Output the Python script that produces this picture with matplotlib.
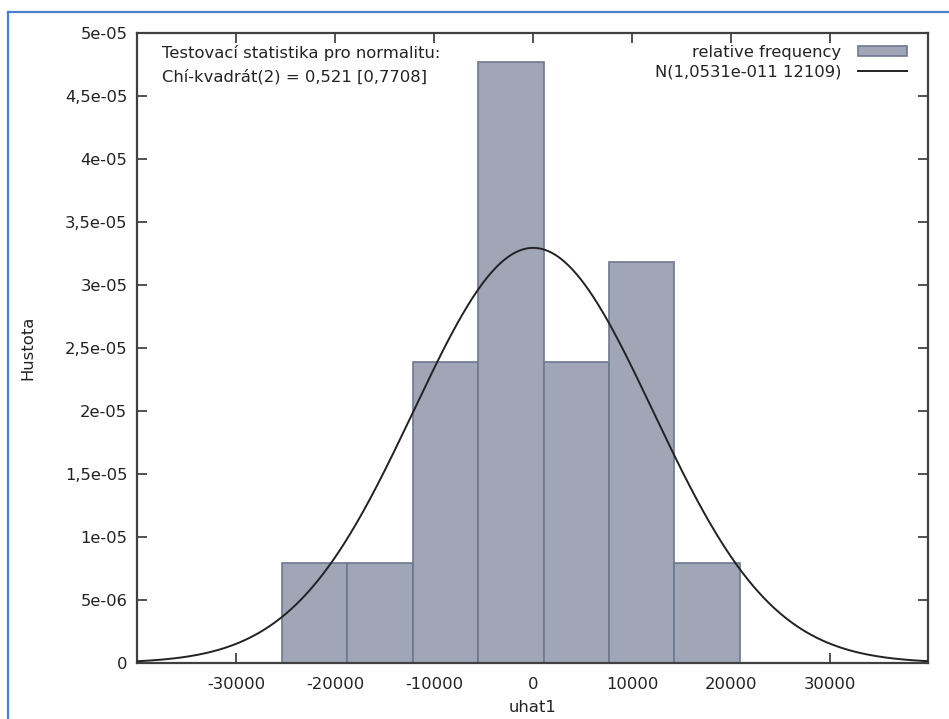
import numpy as np
import matplotlib
matplotlib.use("Agg")
import matplotlib.pyplot as plt
from matplotlib.lines import Line2D
from matplotlib.ticker import FixedLocator, FixedFormatter

# ---- data ----
bin_edges = [-25410, -18796, -12182, -5568, 1046, 7660, 14274, 20888]
densities = [7.96e-6, 7.96e-6, 2.39e-5, 4.77e-5, 2.39e-5, 3.18e-5, 7.96e-6]
norm_mean = 1.0531e-11
norm_sd = 12109.0
x_range = [-40050, 39900]
x_ticks = [-30000, -20000, -10000, 0, 10000, 20000, 30000]
x_ticklabels = ["-30000", "-20000", "-10000", "0", "10000", "20000", "30000"]
y_ticks = [0, 5e-6, 1e-5, 1.5e-5, 2e-5, 2.5e-5, 3e-5, 3.5e-5, 4e-5, 4.5e-5, 5e-5]
y_ticklabels = ["0", "5e-06", "1e-05", "1,5e-05", "2e-05", "2,5e-05", "3e-05",
                "3,5e-05", "4e-05", "4,5e-05", "5e-05"]
legend_labels = ["relative frequency", "N(1,0531e-011 12109)"]
note_lines = ["Testovací statistika pro normalitu:", "Chí-kvadrát(2) = 0,521 [0,7708]"]

FS = 11.8
plt.rcParams['font.family'] = ['DejaVu Sans']
W, H = 949, 719
fig = plt.figure(figsize=(W / 100, H / 100), dpi=100)
fig.patch.set_facecolor('white')

# outer blue frame (left and top edges visible)
fig.add_artist(Line2D([8 / W, 8 / W], [-0.01, 1 - 12 / H], transform=fig.transFigure,
                      color='#4a7fd0', lw=1.6))
fig.add_artist(Line2D([8 / W, 1.01], [1 - 12 / H, 1 - 12 / H], transform=fig.transFigure,
                      color='#4a7fd0', lw=1.6))

ax = fig.add_axes([137 / W, 56 / H, 791 / W, 630 / H])

lefts = bin_edges[:-1]
widths = np.diff(bin_edges)
bars = ax.bar(lefts, densities, width=widths, align='edge', color='#a0a6b6',
              edgecolor='#6d7891', linewidth=1.2, label=legend_labels[0], zorder=2)

xs = np.linspace(x_range[0], x_range[1], 600)
ys = np.exp(-0.5 * ((xs - norm_mean) / norm_sd) ** 2) / (norm_sd * np.sqrt(2 * np.pi))
line, = ax.plot(xs, ys, color='#222222', lw=1.4, label=legend_labels[1], zorder=3)

ax.set_xlim(x_range)
ax.set_ylim(0, 5e-5)
ax.xaxis.set_major_locator(FixedLocator(x_ticks))
ax.xaxis.set_major_formatter(FixedFormatter(x_ticklabels))
ax.yaxis.set_major_locator(FixedLocator(y_ticks))
ax.yaxis.set_major_formatter(FixedFormatter(y_ticklabels))
ax.tick_params(axis='both', direction='in', length=7, width=1.2, color='#333333',
               labelsize=FS, labelcolor='#222222', top=True, right=True)
ax.tick_params(axis='x', pad=10)
ax.tick_params(axis='y', pad=7)
for s in ax.spines.values():
    s.set_color('#404040')
    s.set_linewidth(1.6)

ax.set_xlabel('uhat1', fontsize=FS, color='#222222', labelpad=6)
ax.set_ylabel('Hustota', fontsize=FS, color='#222222', labelpad=21)

ax.text(25 / 791, (663 - 53) / 630, note_lines[0], transform=ax.transAxes,
        fontsize=FS, color='#222222', va='center', ha='left')
ax.text(25 / 791, (663 - 77) / 630, note_lines[1], transform=ax.transAxes,
        fontsize=FS, color='#222222', va='center', ha='left')

leg = ax.legend([bars, line], legend_labels, loc='upper right',
                bbox_to_anchor=((907 - 137) / 791, (663 - 45) / 630),
                frameon=False, markerfirst=False, fontsize=FS, borderpad=0,
                borderaxespad=0, handlelength=3.0, handleheight=0.6,
                handletextpad=1.0, labelspacing=0.25)
for t in leg.get_texts():
    t.set_color('#222222')

fig.savefig('out.png', dpi=100)
